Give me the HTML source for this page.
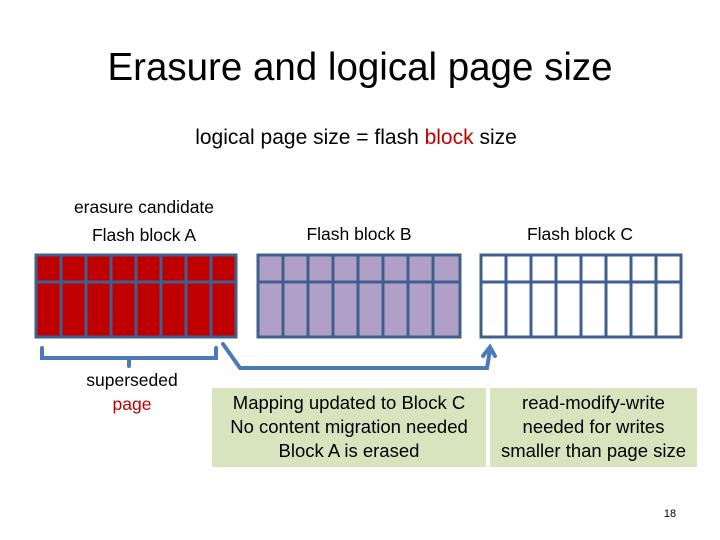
<!DOCTYPE html>
<html><head><style>
body{margin:0;width:720px;height:540px;background:#fff;position:relative;font-family:"Liberation Sans",sans-serif;overflow:hidden}
.t{position:absolute;white-space:nowrap;text-align:center;color:#000}
.g{position:absolute;background:#d7e4bd}
</style></head><body>
<div class="t" style="left:0;width:720px;top:46px;font-size:38.5px">Erasure and logical page size</div>
<div class="t" style="left:0;width:712px;top:126px;font-size:21px">logical page size = flash <span style="color:#c00000">block</span> size</div>
<div class="t" style="left:44px;width:200px;top:193px;font-size:17.5px;line-height:28px">erasure candidate<br>Flash block A</div>
<div class="t" style="left:259px;width:200px;top:224px;font-size:17.5px">Flash block B</div>
<div class="t" style="left:480px;width:200px;top:224px;font-size:17.5px">Flash block C</div>
<div class="t" style="left:32px;width:200px;top:368px;font-size:17.5px;line-height:24px">superseded<br><span style="color:#c00000">page</span></div>
<div class="g" style="left:212px;top:388px;width:274px;height:79px"></div>
<div class="g" style="left:490px;top:388px;width:207px;height:79px"></div>
<div class="t" style="left:212px;width:274px;top:391px;font-size:18.5px;line-height:24px">Mapping updated to Block C<br>No content migration needed<br>Block A is erased</div>
<div class="t" style="left:490px;width:207px;top:391px;font-size:18.5px;line-height:24px">read-modify-write<br>needed for writes<br>smaller than page size</div>
<div class="t" style="left:640px;width:60px;top:508px;font-size:11px">18</div>
<svg width="720" height="540" style="position:absolute;left:0;top:0">
<g stroke="#3f5f8f" stroke-width="3">
<rect x="36" y="255" width="200" height="82" fill="#c00000"/>
<rect x="258" y="255" width="202" height="82" fill="#b0a0c8"/>
<rect x="481" y="255" width="200" height="82" fill="#fff"/>
<line x1="36" y1="282" x2="236" y2="282"/>
<line x1="258" y1="282" x2="460" y2="282"/>
<line x1="481" y1="282" x2="681" y2="282"/>
<g id="c">
<line x1="61" y1="255" x2="61" y2="337"/><line x1="86" y1="255" x2="86" y2="337"/><line x1="111" y1="255" x2="111" y2="337"/><line x1="136" y1="255" x2="136" y2="337"/><line x1="161" y1="255" x2="161" y2="337"/><line x1="186" y1="255" x2="186" y2="337"/><line x1="211" y1="255" x2="211" y2="337"/>
</g>
<use href="#c" x="222"/>
<use href="#c" x="445"/>
</g>
<g stroke="#4a7ab8" stroke-width="4" fill="none" stroke-linecap="round">
<path d="M42 348 V358 H216 V348"/>
<line x1="129" y1="358" x2="129" y2="366"/>
<path d="M223 344 L240 368 H487 L490 350"/>
<path d="M483 356 L490 347 L495 356"/>
</g>
</svg>
</body></html>
